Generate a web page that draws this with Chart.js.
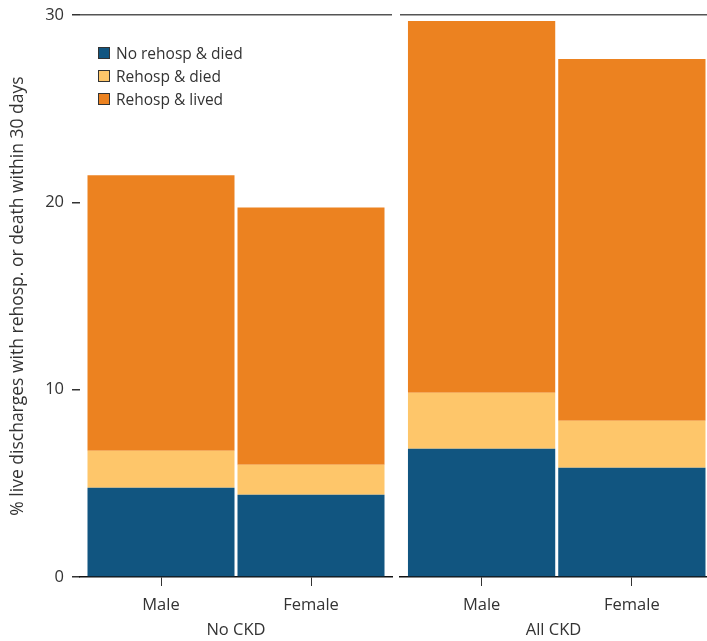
<!DOCTYPE html>
<html>
<head>
<meta charset="utf-8">
<script src="https://cdn.jsdelivr.net/npm/chart.js@4"></script>
<style>
    body { margin: 0; background: #fff; }
    #wrap { position: relative; width: 707px; height: 641px; overflow: hidden; }
    #chart-nockd { position: absolute; left: 0; top: 0; }
    #chart-allckd { position: absolute; left: 396px; top: 0; }
    #legend { position: absolute; left: 98px; top: 41px; font: 15.5px 'Open Sans', sans-serif; color: #333; }
    #legend .item { display: flex; align-items: center; height: 23px; }
    #legend .box { width: 10px; height: 10px; border: 1px solid #333; margin-right: 6px; }
</style>
</head>
<body>
<div id="wrap">
    <canvas id="chart-nockd" width="396" height="641"></canvas>
    <canvas id="chart-allckd" width="311" height="641"></canvas>
    <div id="legend"></div>
</div>
<script>
const groups = ['Male', 'Female']
const panels = ['No CKD', 'All CKD']
const seriesNames = ['No rehosp & died', 'Rehosp & died', 'Rehosp & lived']
const seriesColors = ['#115580', '#fec66a', '#ec8220']

// % of live discharges, Male / Female
const noCkdDied = [4.76, 4.39]
const noCkdRehospDied = [1.98, 1.60]
const noCkdRehospLived = [14.70, 13.74]

const allCkdDied = [6.84, 5.83]
const allCkdRehospDied = [3.00, 2.51]
const allCkdRehospLived = [19.84, 19.31]

const yTicks = [0, 10, 20, 30]

const font = { family: "'Open Sans', sans-serif", size: 16.5 }
const yTitleFont = { family: "'Open Sans', sans-serif", size: 17.5 }
const textColor = '#333'

function makeDatasets(series) {
    return series.map((values, i) => ({
        label: seriesNames[i],
        data: values.map((v, x) => ({ x, y: v })),
        backgroundColor: seriesColors[i],
        borderWidth: 0,
        stack: 'a',
        barPercentage: 0.98,
        categoryPercentage: 1
    }))
}

function makeChart(id, title, series, showY, xRange, padding) {
    const ctx = document.getElementById(id).getContext('2d')
    return new Chart(ctx, {
        type: 'bar',
        data: { datasets: makeDatasets(series) },
        options: {
            responsive: false,
            animation: false,
            layout: { padding },
            plugins: { legend: { display: false }, tooltip: { enabled: false } },
            scales: {
                x: {
                    type: 'linear',
                    stacked: true,
                    offset: false,
                    min: xRange[0],
                    max: xRange[1],
                    afterFit: (scale) => { scale.height = 64 },
                    afterBuildTicks: (scale) => { scale.ticks = groups.map((_, i) => ({ value: i })) },
                    ticks: {
                        font, color: textColor,
                        padding: 9,
                        callback: (value) => groups[value]
                    },
                    grid: { offset: false, drawOnChartArea: false, drawTicks: true, tickLength: 9, tickColor: '#333' },
                    border: { display: true, color: '#111', width: 1.5 },
                    title: { display: true, text: title, font, color: textColor, padding: { top: 0, bottom: 1 } }
                },
                y: {
                    stacked: true,
                    min: 0,
                    max: 30,
                    afterFit: (scale) => {
                        scale.width = showY ? 80 : 4
                        scale.paddingTop = 0
                        scale.paddingBottom = 0
                    },
                    afterBuildTicks: (scale) => { scale.ticks = yTicks.map(value => ({ value })) },
                    ticks: { display: showY, font, color: textColor, padding: 8 },
                    grid: {
                        drawTicks: showY,
                        tickLength: 8,
                        tickColor: '#333',
                        lineWidth: 1.5,
                        color: (c) => c.tick && c.tick.value === 30 ? '#555' : 'rgba(0,0,0,0)'
                    },
                    border: { display: false },
                    title: {
                        display: showY,
                        text: '% live discharges with rehosp. or death within 30 days',
                        font: yTitleFont, color: textColor,
                        padding: { top: 8, bottom: 0 }
                    }
                }
            }
        }
    })
}

makeChart('chart-nockd', panels[0], [noCkdDied, noCkdRehospDied, noCkdRehospLived], true,
    [-0.54, 1.54], { top: 15, right: 4, bottom: 0, left: 0 })
makeChart('chart-allckd', panels[1], [allCkdDied, allCkdRehospDied, allCkdRehospLived], false,
    [-0.543, 1.5], { top: 15, right: 0, bottom: 0, left: 0 })

const legend = document.getElementById('legend')
seriesNames.forEach((name, i) => {
    legend.innerHTML += `<div class="item"><span class="box" style="background:${seriesColors[i]}"></span>${name}</div>`
})
</script>
</body>
</html>
